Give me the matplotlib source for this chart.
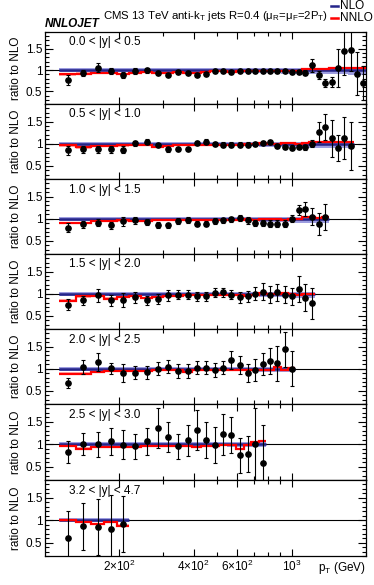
import numpy as np
import matplotlib
matplotlib.use("Agg")
import matplotlib.pyplot as plt
from matplotlib.ticker import FixedLocator, MultipleLocator, NullFormatter

plt.rcParams['font.family'] = ['Liberation Sans', 'DejaVu Sans']
plt.rcParams['mathtext.fontset'] = 'custom'
plt.rcParams['mathtext.rm'] = 'Liberation Sans'
plt.rcParams['mathtext.it'] = 'Liberation Sans:italic'

# pT bin edges (GeV), shared by all rapidity slices
edges = [114, 133, 153, 174, 196, 220, 245, 272, 300, 330, 362, 395, 430, 468, 507,
         548, 592, 638, 686, 737, 790, 846, 905, 967, 1032, 1101, 1172, 1248, 1327,
         1410, 1497, 1588, 1684, 1784, 1890, 2000]

labels = ["0.0 < |y| < 0.5", "0.5 < |y| < 1.0", "1.0 < |y| < 1.5", "1.5 < |y| < 2.0",
          "2.0 < |y| < 2.5", "2.5 < |y| < 3.0", "3.2 < |y| < 4.7"]

# NLO scale band (relative, per bin)
nlo_up = [0.04, 0.04, 0.04, 0.04, 0.04, 0.04, 0.04, 0.04, 0.04, 0.04, 0.04, 0.04,
          0.04, 0.04, 0.04, 0.04, 0.04, 0.04, 0.04, 0.04, 0.04, 0.04, 0.04, 0.04,
          0.04, 0.05, 0.05, 0.05, 0.05, 0.05, 0.05, 0.05, 0.05, 0.05, 0.05]
nlo_dn = [0.05, 0.05, 0.05, 0.05, 0.05, 0.05, 0.05, 0.05, 0.05, 0.05, 0.05, 0.05,
          0.05, 0.05, 0.05, 0.06, 0.06, 0.06, 0.06, 0.07, 0.07, 0.07, 0.08, 0.08,
          0.09, 0.09, 0.09, 0.10, 0.10, 0.10, 0.10, 0.10, 0.11, 0.11, 0.11]
# NNLO band half width
nnlo_w = [0.03, 0.03, 0.025, 0.025, 0.025, 0.02, 0.02, 0.02, 0.02, 0.02, 0.02, 0.02,
          0.02, 0.02, 0.02, 0.02, 0.02, 0.02, 0.02, 0.02, 0.02, 0.02, 0.02, 0.02,
          0.02, 0.02, 0.02, 0.02, 0.02, 0.02, 0.02, 0.02, 0.02, 0.02, 0.02]

data1 = [0.77, 0.93, 1.06, 0.98, 0.89, 0.98, 1.00, 0.94, 0.89, 0.96, 0.94, 0.89, 0.92,
         0.98, 0.98, 0.96, 0.99, 0.98, 0.97, 0.97, 0.98, 0.98, 0.97, 0.96, 0.95, 0.94,
         1.11, 0.88, 0.70, 0.72, 1.06, 1.44, 1.48, 0.92, 0.70]
err1 = [0.11, 0.08, 0.1, 0.08, 0.07, 0.06, 0.06, 0.05, 0.04, 0.04, 0.04, 0.04, 0.04,
        0.04, 0.04, 0.04, 0.04, 0.04, 0.04, 0.04, 0.04, 0.04, 0.04, 0.05, 0.05, 0.06,
        0.15, 0.1, 0.1, 0.11, 0.45, 0.55, 0.5, 0.5, 0.4]
nnlo1 = [0.90, 0.92, 0.93, 0.93, 0.91, 0.94, 0.95, 0.93, 0.93, 0.95, 0.94, 0.94, 0.95,
         0.97, 0.97, 0.96, 0.98, 0.98, 0.98, 0.97, 0.98, 0.98, 0.98, 0.98, 0.99, 1.02,
         1.03, 1.03, 1.02, 1.04, 1.04, 1.05, 1.05, 1.06, 1.06]

data2 = [0.85, 0.87, 0.87, 0.87, 0.86, 1.01, 1.05, 0.97, 0.87, 0.88, 0.88, 1.01, 1.05,
         1.00, 0.98, 0.98, 0.98, 0.98, 1.00, 1.02, 1.04, 0.95, 0.92, 0.91, 0.92, 0.92,
         1.00, 1.27, 1.38, 1.12, 0.90, 1.13, 0.95]
err2 = [0.1, 0.08, 0.08, 0.08, 0.08, 0.06, 0.06, 0.05, 0.05, 0.05, 0.05, 0.05, 0.05,
        0.05, 0.05, 0.05, 0.05, 0.05, 0.05, 0.05, 0.05, 0.05, 0.05, 0.05, 0.05, 0.06,
        0.08, 0.22, 0.3, 0.42, 0.3, 0.48, 0.55]
nnlo2 = [0.96, 0.92, 0.94, 0.95, 0.96, 0.96, 0.97, 0.93, 0.95, 0.96, 0.96, 0.97, 0.98,
         0.98, 0.97, 0.98, 0.98, 1.00, 0.99, 1.01, 1.00, 0.99, 1.02, 1.02, 0.99, 1.02,
         1.03, 1.03, 1.03, 1.04, 1.04, 1.04, 1.03]

data3 = [0.80, 0.87, 0.91, 0.85, 0.94, 0.96, 0.92, 0.85, 0.85, 0.95, 0.97, 0.89, 0.89,
         0.95, 0.96, 0.99, 1.02, 0.96, 0.91, 0.91, 0.89, 0.89, 0.89, 1.00, 1.20, 1.22,
         1.05, 0.88, 1.04]
err3 = [0.1, 0.08, 0.08, 0.08, 0.1, 0.07, 0.07, 0.07, 0.06, 0.06, 0.06, 0.06, 0.06,
        0.06, 0.06, 0.06, 0.07, 0.07, 0.07, 0.07, 0.07, 0.07, 0.07, 0.08, 0.12, 0.15,
        0.2, 0.25, 0.3]
nnlo3 = [0.90, 0.90, 0.95, 0.95, 0.96, 0.94, 0.95, 0.96, 0.96, 0.97, 0.97, 0.97, 0.97,
         0.97, 0.98, 0.98, 0.98, 0.99, 0.96, 0.99, 1.00, 1.00, 0.98, 0.99, 1.00, 1.03,
         1.03, 1.02, 1.03]

data4 = [0.75, 0.85, 0.96, 0.85, 0.86, 0.92, 0.85, 0.88, 0.96, 0.98, 0.98, 0.94, 0.94,
         1.02, 1.03, 0.98, 0.92, 0.94, 1.00, 1.05, 0.98, 1.03, 0.98, 0.94, 1.11, 0.91,
         0.78]
err4 = [0.12, 0.1, 0.15, 0.12, 0.15, 0.12, 0.1, 0.12, 0.12, 0.1, 0.1, 0.1, 0.1, 0.1,
        0.1, 0.1, 0.12, 0.12, 0.15, 0.2, 0.2, 0.2, 0.2, 0.2, 0.3, 0.3, 0.35]
nnlo4 = [0.84, 0.94, 0.94, 0.89, 0.92, 0.94, 0.90, 0.93, 0.95, 0.95, 0.96, 0.96, 0.97,
         0.97, 0.97, 0.96, 0.98, 0.95, 0.98, 1.02, 1.00, 0.99, 1.01, 1.00, 0.98, 0.99,
         1.00]

data5 = [0.68, 1.04, 1.15, 1.01, 0.91, 0.91, 0.92, 1.00, 1.05, 0.95, 0.95, 1.02, 1.02,
         0.97, 1.02, 1.20, 1.08, 0.91, 0.98, 1.11, 1.17, 1.12, 1.44, 1.00]
err5 = [0.12, 0.15, 0.2, 0.12, 0.2, 0.15, 0.15, 0.15, 0.15, 0.15, 0.15, 0.15, 0.15,
        0.15, 0.15, 0.2, 0.2, 0.2, 0.25, 0.25, 0.3, 0.4, 0.4, 0.4]
nnlo5 = [0.89, 0.89, 0.93, 0.94, 0.95, 0.94, 0.95, 0.97, 0.96, 0.96, 0.93, 0.98, 0.98,
         0.96, 0.98, 0.97, 0.98, 0.96, 0.98, 0.96, 0.96, 1.05, 0.96, 1.02]

data6 = [0.83, 1.00, 1.00, 1.07, 0.99, 0.96, 1.07, 1.37, 1.16, 0.96, 1.09, 1.31, 1.09,
         0.99, 1.22, 1.20, 0.75, 0.79, 1.00, 0.57]
err6 = [0.25, 0.25, 0.28, 0.3, 0.33, 0.28, 0.3, 0.45, 0.33, 0.28, 0.35, 0.45, 0.4,
        0.4, 0.45, 0.4, 0.4, 0.4, 0.8, 0.86]
nnlo6 = [0.97, 0.90, 0.94, 0.94, 0.93, 0.94, 0.95, 0.96, 0.96, 0.96, 0.96, 0.93, 0.95,
         0.97, 0.98, 0.98, 0.90, 0.98, 1.05, 1.07]

data7 = [0.61, 0.865, 0.85, 0.81, 0.92]
err7 = [0.6, 0.53, 0.62, 0.75, 0.62]
nnlo7 = [1.00, 0.96, 0.91, 0.97, 0.88]

panels = [(data1, err1, nnlo1), (data2, err2, nnlo2), (data3, err3, nnlo3),
          (data4, err4, nnlo4), (data5, err5, nnlo5), (data6, err6, nnlo6),
          (data7, err7, nnlo7)]

W, H = 374, 585
fig = plt.figure(figsize=(W / 100, H / 100), dpi=100)

x0, x1 = 45, 366
bounds = [32, 104, 179, 254, 329, 404, 480, 556]

nlo_col = '#24248a'
nlo_band = '#9d9de0'
nnlo_col = '#ff0000'
nnlo_band = '#ff9a9a'
fs = 8.5

for i, (vals, errs, nnlo) in enumerate(panels):
    top, bot = bounds[i], bounds[i + 1]
    ax = fig.add_axes([x0 / W, 1 - bot / H, (x1 - x0) / W, (bot - top) / H])
    n = len(vals)
    e = np.array(edges[:n + 1], dtype=float)
    c = 0.5 * (e[:-1] + e[1:])
    up = 1 + np.array(nlo_up[:n])
    dn = 1 - np.array(nlo_dn[:n])
    nn = np.array(nnlo)
    w = np.array(nnlo_w[:n])

    ax.stairs(up, e, baseline=dn, fill=True, color=nlo_band, lw=0, zorder=1)
    ax.stairs(nn + w, e, baseline=nn - w, fill=True, color=nnlo_band, alpha=0.8, lw=0, zorder=2)
    ax.axhline(1.0, color='black', lw=0.8, zorder=3)
    ax.stairs(np.ones(n), e, baseline=None, color=nlo_col, lw=1.8, zorder=4)
    ax.stairs(nn, e, baseline=None, color=nnlo_col, lw=1.6, zorder=5)
    ax.errorbar(c, vals, yerr=errs, fmt='o', color='black', ms=3.8, elinewidth=0.8,
                capsize=1.5, capthick=0.8, zorder=6)

    ax.set_xscale('log')
    ax.set_xlim(100, 2000)
    ax.set_ylim(0.2, 1.9)
    ax.yaxis.set_major_locator(FixedLocator([0.5, 1.0, 1.5]))
    ax.yaxis.set_minor_locator(MultipleLocator(0.1))
    ax.set_yticklabels(['0.5', '1', '1.5'])
    ax.xaxis.set_major_locator(FixedLocator([200, 400, 600, 1000]))
    ax.xaxis.set_minor_locator(FixedLocator([300, 500, 700, 800, 900, 2000]))
    ax.xaxis.set_minor_formatter(NullFormatter())
    ax.tick_params(which='both', direction='in', top=True, right=True, labelsize=fs,
                   width=0.8, pad=2)
    ax.tick_params(which='major', axis='y', length=6)
    ax.tick_params(which='minor', axis='y', length=3)
    ax.tick_params(which='major', axis='x', length=5)
    ax.tick_params(which='minor', axis='x', length=3)
    for s in ax.spines.values():
        s.set_linewidth(0.9)
    if i < 6:
        ax.set_xticklabels([])
    else:
        ax.set_xticklabels(['2×10$^{2}$', '4×10$^{2}$', '6×10$^{2}$', '10$^{3}$'])
        ax.text(1.0, -0.155, 'p$_{\\mathrm{T}}$ (GeV)', transform=ax.transAxes,
                ha='right', va='center', fontsize=fs)
    ax.set_ylabel('ratio to NLO', fontsize=fs, labelpad=3)
    ax.text(0.075, 0.86, labels[i], transform=ax.transAxes, ha='left', va='center',
            fontsize=fs)

fig.text(45 / W, 1 - 24 / H, 'NNLOJET', fontsize=8.5, fontweight='bold', style='italic',
         ha='left', va='center')
fig.text(216 / W, 1 - 16 / H,
         'CMS 13 TeV anti-k$_{\\mathrm{T}}$ jets R=0.4 (μ$_{\\mathrm{R}}$=μ$_{\\mathrm{F}}$=2P$_{\\mathrm{T}}$)',
         fontsize=8.2, ha='center', va='center')
# legend
fig.lines.append(plt.Line2D([331 / W, 338 / W], [1 - 6 / H, 1 - 6 / H], color=nlo_col, lw=1.8,
                            transform=fig.transFigure))
fig.lines.append(plt.Line2D([331 / W, 338 / W], [1 - 18 / H, 1 - 18 / H], color=nnlo_col, lw=1.8,
                            transform=fig.transFigure))
fig.text(340 / W, 1 - 6 / H, 'NLO', fontsize=fs, ha='left', va='center')
fig.text(340 / W, 1 - 18 / H, 'NNLO', fontsize=fs, ha='left', va='center')

fig.savefig('out.png', dpi=100)
